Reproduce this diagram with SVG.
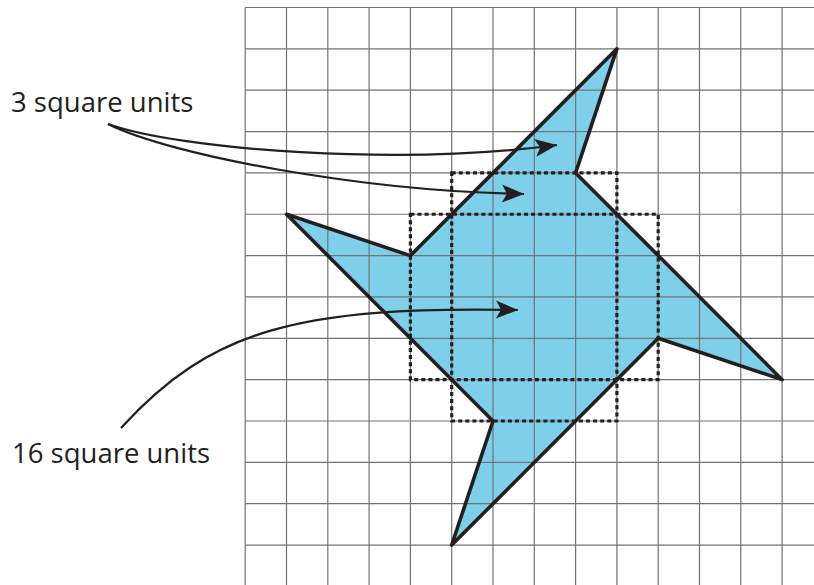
<svg xmlns="http://www.w3.org/2000/svg" width="814" height="585" viewBox="0 0 814 585">
  <style>
    .grid line { stroke: #737373; stroke-width: 1.2; }
    .fill { fill: #7dcfea; stroke: none; }
    .outline { fill: none; stroke: #231f20; stroke-width: 3.6; stroke-linejoin: round; stroke-linecap: round; }
    .dots { fill: none; stroke: #231f20; stroke-width: 3.2; stroke-dasharray: 4 3.1; }
    .arrow { fill: none; stroke: #231f20; stroke-width: 2.2; marker-end: url(#head); }
    .label { font-family: "Open Sans", "Noto Sans", "Liberation Sans", sans-serif; font-size: 27.5px; fill: #231f20; }
  </style>
  <defs>
    <marker id="head" markerUnits="userSpaceOnUse" markerWidth="30" markerHeight="24" viewBox="-26 -12 30 24" refX="0" refY="0" orient="auto">
      <path d="M0,0 L-22,-9 L-17,0 L-22,9 Z" fill="#231f20"/>
    </marker>
  </defs>
  <rect width="814" height="585" fill="#ffffff"/>

  <g id="shape-fill">
    <polygon class="fill" points="616.9,48.85 575.6,172.9 658.2,255.6 782.1,379.65 658.2,338.3 451.7,545.05 493,421 286.5,214.25 410.4,255.6"/>
  </g>

  <g id="grid" class="grid">
    <line x1="245.2" y1="7.5" x2="245.2" y2="585"/>
    <line x1="286.5" y1="7.5" x2="286.5" y2="585"/>
    <line x1="327.8" y1="7.5" x2="327.8" y2="585"/>
    <line x1="369.1" y1="7.5" x2="369.1" y2="585"/>
    <line x1="410.4" y1="7.5" x2="410.4" y2="585"/>
    <line x1="451.7" y1="7.5" x2="451.7" y2="585"/>
    <line x1="493" y1="7.5" x2="493" y2="585"/>
    <line x1="534.3" y1="7.5" x2="534.3" y2="585"/>
    <line x1="575.6" y1="7.5" x2="575.6" y2="585"/>
    <line x1="616.9" y1="7.5" x2="616.9" y2="585"/>
    <line x1="658.2" y1="7.5" x2="658.2" y2="585"/>
    <line x1="699.5" y1="7.5" x2="699.5" y2="585"/>
    <line x1="740.8" y1="7.5" x2="740.8" y2="585"/>
    <line x1="782.1" y1="7.5" x2="782.1" y2="585"/>
    <line x1="245.2" y1="7.5" x2="814" y2="7.5"/>
    <line x1="245.2" y1="48.85" x2="814" y2="48.85"/>
    <line x1="245.2" y1="90.2" x2="814" y2="90.2"/>
    <line x1="245.2" y1="131.55" x2="814" y2="131.55"/>
    <line x1="245.2" y1="172.9" x2="814" y2="172.9"/>
    <line x1="245.2" y1="214.25" x2="814" y2="214.25"/>
    <line x1="245.2" y1="255.6" x2="814" y2="255.6"/>
    <line x1="245.2" y1="296.95" x2="814" y2="296.95"/>
    <line x1="245.2" y1="338.3" x2="814" y2="338.3"/>
    <line x1="245.2" y1="379.65" x2="814" y2="379.65"/>
    <line x1="245.2" y1="421" x2="814" y2="421"/>
    <line x1="245.2" y1="462.35" x2="814" y2="462.35"/>
    <line x1="245.2" y1="503.7" x2="814" y2="503.7"/>
    <line x1="245.2" y1="545.05" x2="814" y2="545.05"/>
  </g>

  <g id="shape-outline">
    <polygon class="outline" points="616.9,48.85 575.6,172.9 658.2,255.6 782.1,379.65 658.2,338.3 451.7,545.05 493,421 286.5,214.25 410.4,255.6"/>
  </g>

  <g id="dotted-squares">
    <rect id="square-tall" class="dots" x="451.7" y="172.9" width="165.2" height="248.1"/>
    <rect id="square-wide" class="dots" x="410.4" y="214.25" width="247.8" height="165.4"/>
  </g>

  <g id="connectors">
    <path class="arrow" d="M108,124 C180,150 400,166 557,145"/>
    <path class="arrow" d="M108,124 C170,155 360,191 524,194"/>
    <path class="arrow" d="M121,428 C211,329 300,306 518,310"/>
  </g>

  <g id="label-3">
    <text class="label" x="11" y="111.5">3 square units</text>
  </g>
  <g id="label-16">
    <text class="label" x="12" y="463.3">16 square units</text>
  </g>
</svg>
